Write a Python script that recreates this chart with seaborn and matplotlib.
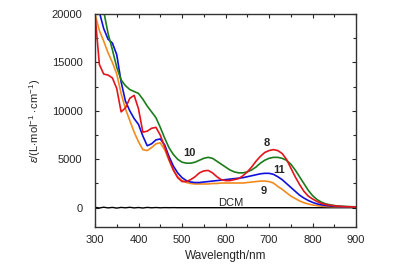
import numpy as np
import pandas as pd
import matplotlib
matplotlib.use("Agg")
import matplotlib.pyplot as plt
import seaborn as sns
from matplotlib.ticker import MultipleLocator

wavelength = list(range(300, 901, 10))

s8 = [20000, 14800, 13800, 13700, 13400, 12300, 9900, 10300, 11300, 11600,
      10200, 7800, 7900, 8200, 8300, 7500, 6300, 5000, 3900, 3100,
      2700, 2700, 2900, 3200, 3600, 3800, 3850, 3600, 3200, 2900,
      2800, 2800, 2900, 3000, 3300, 3700, 4200, 4800, 5300, 5700,
      5900, 6000, 5900, 5600, 5000, 4100, 3200, 2400, 1700, 1200,
      900, 650, 450, 330, 250, 200, 150, 120, 100, 90, 80]
s9 = [20000, 18300, 17200, 16000, 15000, 13800, 11800, 10200, 9000, 7800,
      6800, 6000, 5900, 6200, 6600, 6700, 6000, 4900, 3900, 3200,
      2800, 2600, 2500, 2450, 2450, 2450, 2450, 2500, 2500, 2550,
      2550, 2550, 2550, 2550, 2550, 2600, 2650, 2700, 2750, 2750,
      2700, 2550, 2200, 1900, 1550, 1200, 950, 700, 520, 380,
      280, 210, 160, 130, 110, 100, 90, 80, 75, 70, 70]
s10 = [24000, 22000, 20300, 18000, 16300, 14500, 13200, 12600, 12200, 12000,
       11800, 11200, 10500, 9900, 9300, 8300, 7200, 6200, 5500, 5000,
       4700, 4600, 4600, 4700, 4900, 5100, 5200, 5100, 4800, 4500,
       4200, 3900, 3700, 3600, 3600, 3700, 3900, 4200, 4600, 4900,
       5100, 5200, 5200, 5100, 4900, 4500, 3900, 3200, 2500, 1800,
       1250, 850, 580, 400, 300, 220, 170, 140, 120, 100, 90]
s11 = [22000, 20200, 18500, 17400, 17000, 15800, 13000, 11000, 10000, 9200,
       8600, 7400, 6400, 6600, 7000, 7100, 6500, 5300, 4300, 3600,
       3100, 2800, 2650, 2600, 2600, 2650, 2700, 2750, 2800, 2850,
       2900, 2950, 3000, 3050, 3100, 3200, 3300, 3400, 3500, 3550,
       3550, 3450, 3200, 2900, 2500, 2100, 1700, 1300, 1000, 750,
       550, 400, 300, 230, 180, 150, 120, 100, 90, 85, 80]
dcm = [40, -30, 50, -20, 30, -40, 30, -10, 40, -20,
       20, -30, 30, -10, 20, -10, 10, 0, 10, 0,
       0, 0, 0, 0, 0, 0, 0, 0, 0, 0,
       0, 0, 0, 0, 0, 0, 0, 0, 0, 0,
       0, 0, 0, 0, 0, 0, 0, 0, 0, 0,
       0, 0, 0, 0, 0, 0, 0, 0, 0, 0, 0]

series = {"DCM": dcm, "9": s9, "11": s11, "10": s10, "8": s8}
colors = {"DCM": "#000000", "9": "#f28a1e", "11": "#1010dd", "10": "#1c7c1c", "8": "#e3141c"}

rows = []
for name, vals in series.items():
    for w, v in zip(wavelength, vals):
        rows.append({"wl": w, "eps": v, "s": name})
df = pd.DataFrame(rows)

sns.set_style("ticks")
plt.rcParams["font.family"] = ["Liberation Sans", "DejaVu Sans"]
plt.rcParams["mathtext.fontset"] = "custom"
plt.rcParams["mathtext.it"] = "Liberation Sans:italic"
plt.rcParams["mathtext.rm"] = "Liberation Sans"

fig = plt.figure(figsize=(3.95, 2.7), dpi=100)
ax = fig.add_axes([0.2405, 0.159, 0.661, 0.789])
sns.lineplot(data=df, x="wl", y="eps", hue="s", palette=colors, legend=False,
             linewidth=1.2, ax=ax, sort=False, estimator=None)
ax.lines[0].set_linewidth(1.0)

ax.set_xlim(300, 900)
ax.set_ylim(-2000, 20000)
ax.xaxis.set_major_locator(MultipleLocator(100))
ax.xaxis.set_minor_locator(MultipleLocator(50))
ax.yaxis.set_major_locator(MultipleLocator(5000))
ax.yaxis.set_minor_locator(MultipleLocator(2500))
ax.tick_params(which="both", direction="in", top=True, right=True,
               labeltop=False, labelright=False, labelsize=8, width=0.8)
ax.tick_params(which="major", length=3)
ax.tick_params(which="minor", length=2)
ax.tick_params(axis="y", which="major", pad=9)
ax.tick_params(axis="x", which="major", pad=6)
for sp in ax.spines.values():
    sp.set_linewidth(1.0)
    sp.set_color("#333333")

ax.set_xlabel("Wavelength/nm", fontsize=8.5, labelpad=3)
ax.set_ylabel(r"$\varepsilon$/(L$\cdot$mol$^{-1}\cdot$cm$^{-1}$)", fontsize=8, labelpad=6)

ax.text(518, 5600, "10", fontsize=8, fontweight="bold", ha="center", va="center")
ax.text(695, 6650, "8", fontsize=8, fontweight="bold", ha="center", va="center")
ax.text(722, 3850, "11", fontsize=8, fontweight="bold", ha="center", va="center")
ax.text(688, 1750, "9", fontsize=8, fontweight="bold", ha="center", va="center")
ax.text(612, 500, "DCM", fontsize=8, ha="center", va="center")

fig.savefig("out.png", dpi=100)
